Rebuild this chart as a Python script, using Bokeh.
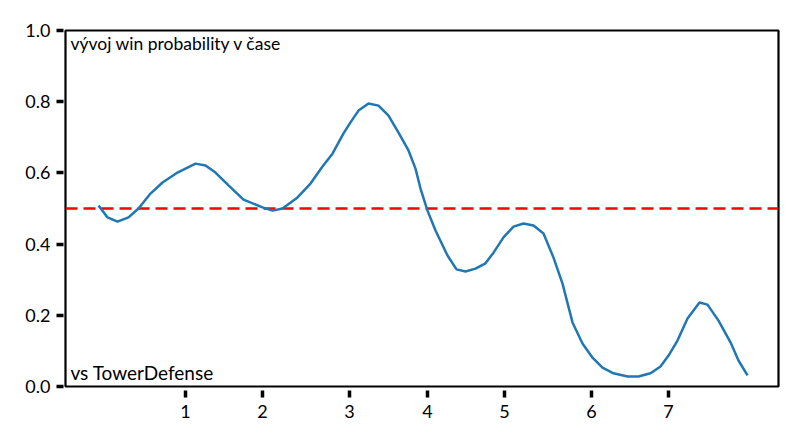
from bokeh.plotting import figure
from bokeh.models import Range1d, FixedTicker, Label
from bokeh.embed import file_html
from bokeh.resources import INLINE

# time axis (arbitrary units) and win probability
t = [3.3, 3.7, 4.2, 5.2, 6.3, 7.3, 8.5, 9.7, 11.2, 13.0, 14.0, 15.0, 16.3, 17.8,
     19.7, 20.7, 21.7, 23.2, 24.5, 25.7, 26.7, 27.8, 28.5, 29.3, 30.3, 31.3,
     32.3, 33.3, 34.3, 35.0, 35.5, 36.2, 37.0, 38.2, 39.1, 40.0, 41.0, 42.0,
     42.8, 43.8, 44.8, 45.8, 46.8, 47.8, 48.8, 49.7, 50.7, 51.7, 52.7, 53.7,
     54.8, 56.2, 57.3, 58.5, 59.5, 60.3, 61.2, 62.2, 63.4, 64.2, 65.3, 66.5,
     67.3, 68.2]
win_prob = [0.508, 0.494, 0.475, 0.463, 0.475, 0.500, 0.542, 0.573, 0.601, 0.626,
            0.621, 0.601, 0.565, 0.525, 0.503, 0.494, 0.500, 0.531, 0.570, 0.618,
            0.654, 0.711, 0.742, 0.775, 0.795, 0.789, 0.761, 0.713, 0.663, 0.612,
            0.556, 0.494, 0.438, 0.368, 0.329, 0.323, 0.331, 0.346, 0.376, 0.419,
            0.449, 0.458, 0.452, 0.430, 0.362, 0.289, 0.180, 0.121, 0.081, 0.053,
            0.037, 0.028, 0.028, 0.037, 0.056, 0.087, 0.129, 0.191, 0.236, 0.230,
            0.185, 0.124, 0.073, 0.031]
x_min, x_max = 0.0, 71.3
ref_x = [x_min, x_max]
ref_y = [0.5, 0.5]
x_tick_pos = [12.0, 19.7, 28.4, 36.2, 43.9, 52.6, 60.3]
x_tick_labels = ["1", "2", "3", "4", "5", "6", "7"]
y_ticks = [0.0, 0.2, 0.4, 0.6, 0.8, 1.0]
title_text = "vývoj win probability v čase"
sub_text = "vs TowerDefense"

FONT = "Lato"

p = figure(width=792, height=437, output_backend="svg", toolbar_location=None,
           x_range=Range1d(x_min, x_max), y_range=Range1d(0, 1))
p.min_border_left = 65
p.min_border_right = 14
p.min_border_top = 30
p.min_border_bottom = 51
p.background_fill_color = "white"
p.border_fill_color = "white"
p.outline_line_color = "black"
p.outline_line_width = 2.2
p.grid.visible = False

p.line(ref_x, ref_y, line_color="#ff0000", line_width=2.5, line_dash="12 6")
p.line(t, win_prob, line_color="#1f77b4", line_width=2.5)

for ax in (p.xaxis[0], p.yaxis[0]):
    ax.axis_line_color = None
    ax.major_tick_line_width = 3.5
    ax.major_tick_line_color = "black"
    ax.minor_tick_line_color = None
    ax.major_label_text_font = FONT
    ax.major_label_text_font_size = "18px"
    ax.major_label_text_color = "black"

p.xaxis.major_tick_in = -4
p.xaxis.major_tick_out = 11
p.xaxis.major_label_standoff = 7
p.yaxis.major_tick_in = -2
p.yaxis.major_tick_out = 9
p.yaxis.major_label_standoff = 6

p.xaxis.ticker = FixedTicker(ticks=x_tick_pos)
p.xaxis.major_label_overrides = {v: s for v, s in zip(x_tick_pos, x_tick_labels)}
p.yaxis.ticker = FixedTicker(ticks=y_ticks)
p.yaxis.major_label_overrides = {v: f"{v:.1f}" for v in y_ticks}

p.add_layout(Label(x=0.5, y=0.993, text=title_text, text_baseline="top",
                   text_align="left", text_font=FONT, text_font_size="17.5px",
                   text_color="black"))
p.add_layout(Label(x=0.5, y=0.006, text=sub_text, text_baseline="bottom",
                   text_align="left", text_font=FONT, text_font_size="19px",
                   text_color="black"))

open("out.html", "w").write(file_html(p, INLINE))
